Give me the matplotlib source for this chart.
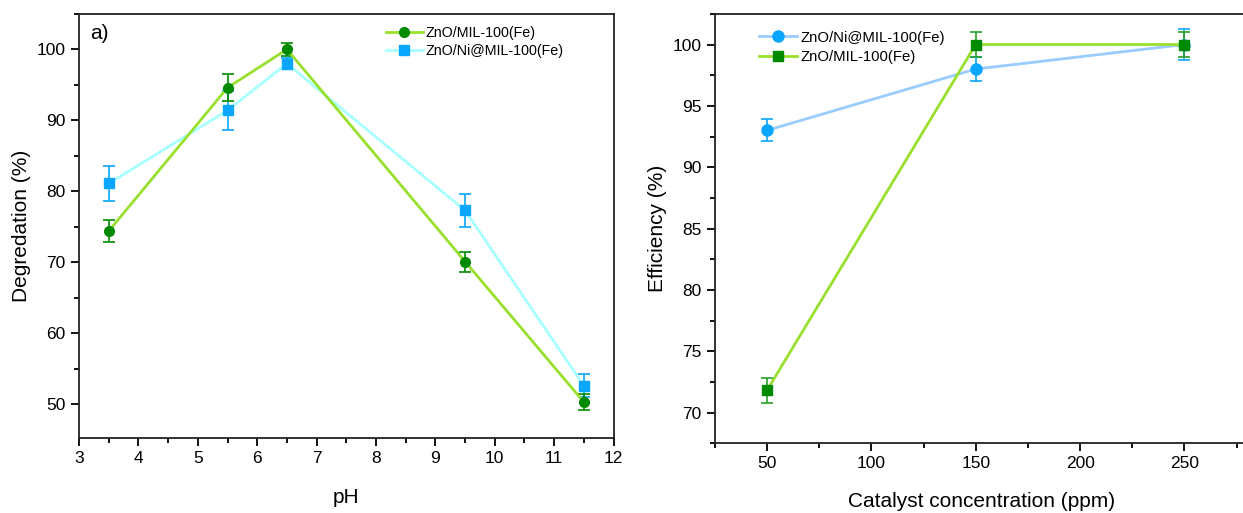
import matplotlib
matplotlib.use("Agg")
import matplotlib.pyplot as plt
from matplotlib.ticker import MultipleLocator

plt.rcParams['font.family'] = ['Liberation Sans', 'DejaVu Sans']

# panel a) - pH
ph = [3.5, 5.5, 6.5, 9.5, 11.5]
deg_zno = [74.4, 94.6, 100.0, 70.1, 50.3]
err_zno = [1.5, 1.9, 0.9, 1.4, 1.1]
deg_ni = [81.1, 91.4, 98.0, 77.3, 52.6]
err_ni = [2.4, 2.8, 0.8, 2.3, 1.6]

# panel b) - catalyst concentration
conc = [50, 150, 250]
eff_ni = [93.0, 98.0, 100.0]
eff_ni_err = [0.9, 1.0, 1.3]
eff_zno = [71.8, 100.0, 100.0]
eff_zno_err = [1.0, 1.0, 1.0]

fig = plt.figure(figsize=(12.43, 5.13), dpi=100)
fig.patch.set_facecolor('white')

ax1 = fig.add_axes([0.0636, 0.147, 0.430, 0.826])
ax2 = fig.add_axes([0.575, 0.136, 0.43, 0.837])

green_line = '#99e02e'
green_mk = '#008a00'
cyan_line = '#a8ffff'
blue_mk = '#0aa6ff'
lblue_line = '#99ccff'

ax1.errorbar(ph, deg_zno, yerr=err_zno, color=green_line, lw=2, marker='o', ms=7,
             mfc=green_mk, mec=green_mk, ecolor=green_mk, elinewidth=1.2, capsize=4,
             capthick=1.2, label='ZnO/MIL-100(Fe)', zorder=3)
ax1.errorbar(ph, deg_ni, yerr=err_ni, color=cyan_line, lw=2, marker='s', ms=6.5,
             mfc=blue_mk, mec=blue_mk, ecolor=blue_mk, elinewidth=1.2, capsize=4,
             capthick=1.2, label='ZnO/Ni@MIL-100(Fe)', zorder=2)
ax1.set_xlim(3, 12)
ax1.set_ylim(45.3, 105)
ax1.xaxis.set_major_locator(MultipleLocator(1))
ax1.xaxis.set_minor_locator(MultipleLocator(0.5))
ax1.yaxis.set_major_locator(MultipleLocator(10))
ax1.yaxis.set_minor_locator(MultipleLocator(5))
ax1.set_xlabel('pH', fontsize=15, labelpad=16)
ax1.set_ylabel('Degredation (%)', fontsize=15, labelpad=4)
ax1.text(0.02, 0.975, 'a)', transform=ax1.transAxes, fontsize=15, va='top', ha='left')
h, l = ax1.get_legend_handles_labels()
ax1.legend([x[0] for x in h], l, loc='upper right', fontsize=10.3, frameon=False,
           handlelength=2.6, borderaxespad=0.3, labelspacing=0.3, handletextpad=0.2,
           bbox_to_anchor=(0.926, 0.995))

ax2.errorbar(conc, eff_ni, yerr=eff_ni_err, color=lblue_line, lw=2, marker='o', ms=8,
             mfc=blue_mk, mec=blue_mk, ecolor=blue_mk, elinewidth=1.2, capsize=4,
             capthick=1.2, label='ZnO/Ni@MIL-100(Fe)', zorder=2)
ax2.errorbar(conc, eff_zno, yerr=eff_zno_err, color=green_line, lw=2, marker='s', ms=7.5,
             mfc=green_mk, mec=green_mk, ecolor='#2aa02a', elinewidth=1.2, capsize=4,
             capthick=1.2, label='ZnO/MIL-100(Fe)', zorder=3)
ax2.set_xlim(25, 281)
ax2.set_ylim(67.5, 102.5)
ax2.xaxis.set_major_locator(MultipleLocator(50))
ax2.xaxis.set_minor_locator(MultipleLocator(25))
ax2.yaxis.set_major_locator(MultipleLocator(5))
ax2.yaxis.set_minor_locator(MultipleLocator(2.5))
ax2.spines['right'].set_visible(False)
ax2.set_xlabel('Catalyst concentration (ppm)', fontsize=15, labelpad=15)
ax2.set_ylabel('Efficiency (%)', fontsize=15, labelpad=4)
h, l = ax2.get_legend_handles_labels()
ax2.legend([x[0] for x in h], l, loc='upper left', fontsize=10.7, frameon=False,
           handlelength=2.6, borderaxespad=0.3, labelspacing=0.35, handletextpad=0.2,
           bbox_to_anchor=(0.063, 0.985))

for ax in (ax1, ax2):
    for s in ax.spines.values():
        s.set_linewidth(1.3)
        s.set_color('#222222')
    ax.tick_params(which='major', direction='out', length=6, width=1.3, labelsize=12.5)
    ax.tick_params(which='minor', direction='out', length=3.5, width=1.3)

plt.savefig('out.png', dpi=100)
